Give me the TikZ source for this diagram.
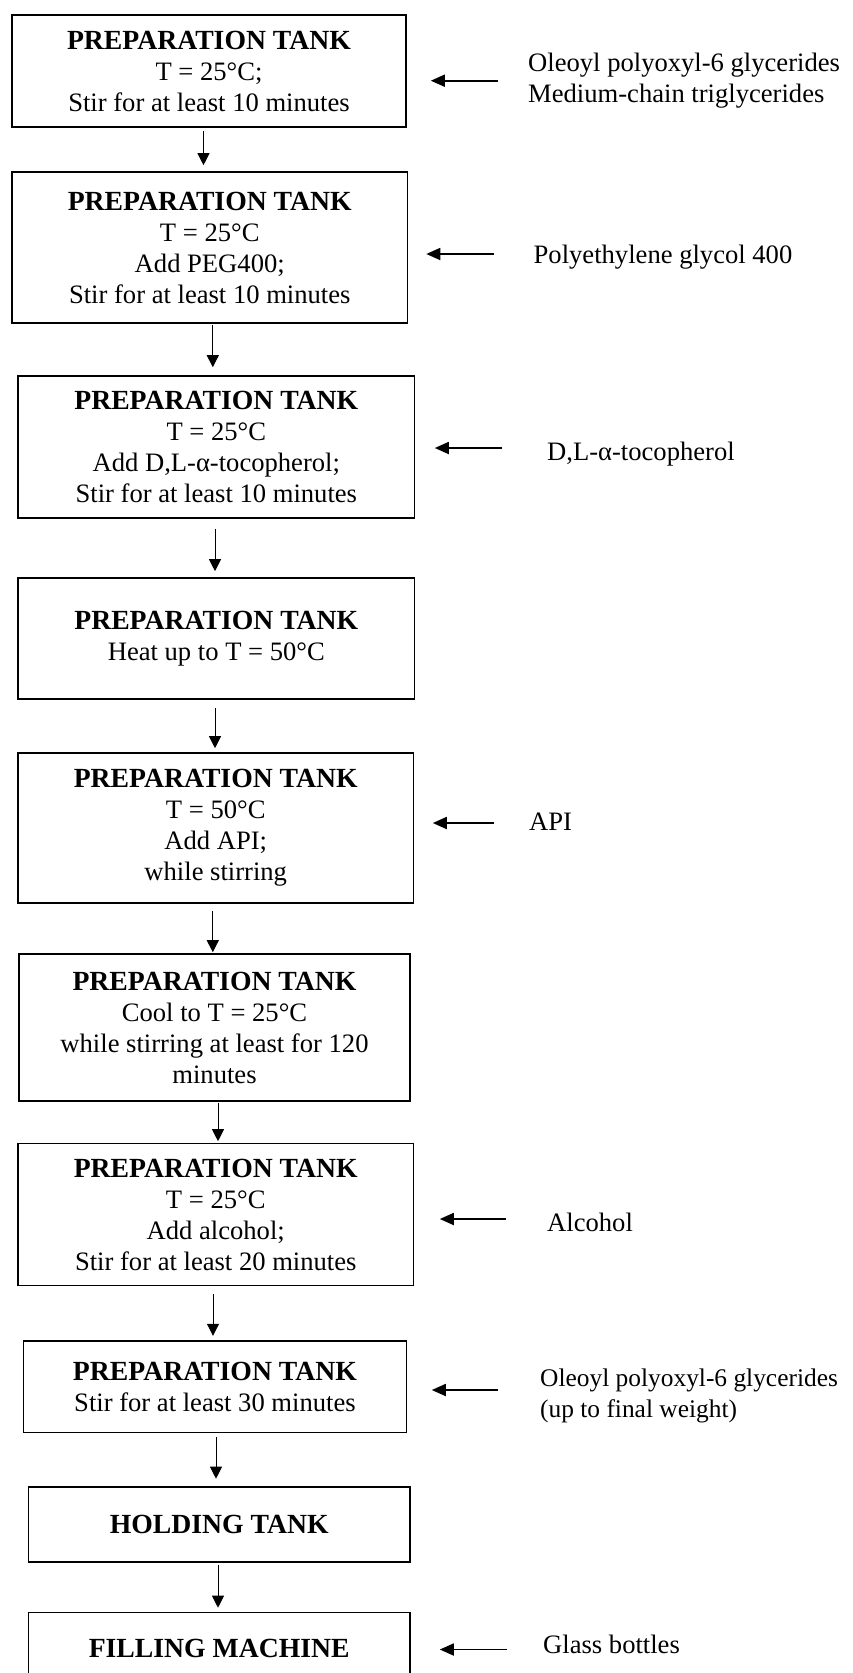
\documentclass[tikz,border=0pt]{standalone}
\usepackage{fontspec}
\setmainfont{Liberation Serif}
\usetikzlibrary{arrows.meta}
\newcommand{\headfont}{\fontsize{27.7}{31}\selectfont\bfseries}
\newcommand{\bodyfont}{\fontsize{26.6}{31}\selectfont}
\newcommand{\sidefont}{\fontsize{26.6}{31}\selectfont}
\newcommand{\smallsidefont}{\fontsize{25.4}{31}\selectfont}
\begin{document}
\begin{tikzpicture}[x=1pt,y=-1pt,
  tank/.style={draw, line width=1.6pt, inner sep=0pt, align=center, font=\bodyfont},
  flow/.style={-{Triangle[length=12pt,width=12pt]}, line width=1pt},
  feed/.style={-{Triangle[length=14pt,width=12pt]}, line width=1.8pt},
  side/.style={anchor=base west, align=left, inner sep=0pt, font=\sidefont}]
\clip (0,0) rectangle (853,1673);

% process steps
\node[tank, minimum width=394pt, minimum height=112pt] (b1) at (209,71)
  {{\headfont PREPARATION TANK}\\T = 25°C;\\Stir for at least 10 minutes};
\node[tank, minimum width=395.5pt, minimum height=151pt] (b2) at (209.75,247.5)
  {{\headfont PREPARATION TANK}\\T = 25°C\\Add PEG400;\\Stir for at least 10 minutes};
\node[tank, minimum width=396.6pt, minimum height=142pt] (b3) at (216.3,447)
  {{\headfont PREPARATION TANK}\\T = 25°C\\Add D,L-α-tocopherol;\\Stir for at least 10 minutes};
\node[tank, minimum width=396.6pt, minimum height=121pt] (b4) at (216.3,638.5)
  {{\headfont PREPARATION TANK}\\Heat up to T = 50°C};
\node[tank, minimum width=395.5pt, minimum height=150pt] (b5) at (215.75,828)
  {{\headfont PREPARATION TANK}\\T = 50°C\\Add API;\\while stirring};
\node[tank, minimum width=391pt, minimum height=147pt] (b6) at (214.5,1027.5)
  {{\headfont PREPARATION TANK}\\Cool to T = 25°C\\while stirring at least for 120\\minutes};
\node[tank, minimum width=395.5pt, minimum height=142.2pt] (b7) at (215.75,1214.5)
  {{\headfont PREPARATION TANK}\\T = 25°C\\Add alcohol;\\Stir for at least 20 minutes};
\node[tank, minimum width=382.9pt, minimum height=91.8pt] (b8) at (214.95,1386.6)
  {{\headfont PREPARATION TANK}\\Stir for at least 30 minutes};
\node[tank, minimum width=381.6pt, minimum height=75pt] (b9) at (219.2,1524.5)
  {{\headfont HOLDING TANK}};
\node[tank, minimum width=381.6pt, minimum height=70.8pt] (b10) at (219.2,1648)
  {{\headfont FILLING MACHINE}};

% material inputs (base anchor sits on the last line)
\node[side] (t1) at (528,102) {Oleoyl polyoxyl-6 glycerides\\Medium-chain triglycerides};
\node[side] (t2) at (533.5,263) {Polyethylene glycol 400};
\node[side] (t3) at (547,460) {D,L-α-tocopherol};
\node[side] (t4) at (529,830) {API};
\node[side] (t5) at (547,1231) {Alcohol};
\node[side, font=\smallsidefont] (t6) at (540,1417) {Oleoyl polyoxyl-6 glycerides\\(up to final weight)};
\node[side] (t7) at (543,1653) {Glass bottles};

% feed arrows into the tanks
\coordinate (f1) at (497.5,80.7);
\coordinate (f2) at (494,254);
\coordinate (f3) at (502,448);
\coordinate (f4) at (494,823);
\coordinate (f5) at (506,1219);
\coordinate (f6) at (497.5,1390);
\coordinate (f7) at (507,1649.5);
\draw[feed, shorten >=24pt]   (f1) -- (f1 -| b1.east);
\draw[feed, shorten >=18pt]   (f2) -- (f2 -| b2.east);
\draw[feed, shorten >=19.4pt] (f3) -- (f3 -| b3.east);
\draw[feed, shorten >=18.5pt] (f4) -- (f4 -| b5.east);
\draw[feed, shorten >=25.5pt] (f5) -- (f5 -| b7.east);
\draw[feed, shorten >=24.6pt] (f6) -- (f6 -| b8.east);
\draw[feed, shorten >=29pt]   (f7) -- (f7 -| b10.east);

% flow between steps
\coordinate (v1) at (203.5,0);
\coordinate (v2) at (212.8,0);
\coordinate (v3) at (215,0);
\coordinate (v4) at (215,0);
\coordinate (v5) at (212.8,0);
\coordinate (v6) at (218,0);
\coordinate (v7) at (213,0);
\coordinate (v8) at (216,0);
\coordinate (v9) at (218,0);
\draw[flow, shorten <=3pt,   shorten >=6pt]   (v1 |- b1.south) -- (v1 |- b2.north);
\draw[flow, shorten <=1pt,   shorten >=8pt]   (v2 |- b2.south) -- (v2 |- b3.north);
\draw[flow, shorten <=10pt,  shorten >=6pt]   (v3 |- b3.south) -- (v3 |- b4.north);
\draw[flow, shorten <=8pt,   shorten >=4pt]   (v4 |- b4.south) -- (v4 |- b5.north);
\draw[flow, shorten <=7pt,   shorten >=1pt]   (v5 |- b5.south) -- (v5 |- b6.north);
\draw[flow, shorten <=0.7pt, shorten >=1.4pt] (v6 |- b6.south) -- (v6 |- b7.north);
\draw[flow, shorten <=7.4pt, shorten >=4.1pt] (v7 |- b7.south) -- (v7 |- b8.north);
\draw[flow, shorten <=4.1pt, shorten >=7.5pt] (v8 |- b8.south) -- (v8 |- b9.north);
\draw[flow, shorten <=2.5pt, shorten >=4.1pt] (v9 |- b9.south) -- (v9 |- b10.north);
\end{tikzpicture}
\end{document}
